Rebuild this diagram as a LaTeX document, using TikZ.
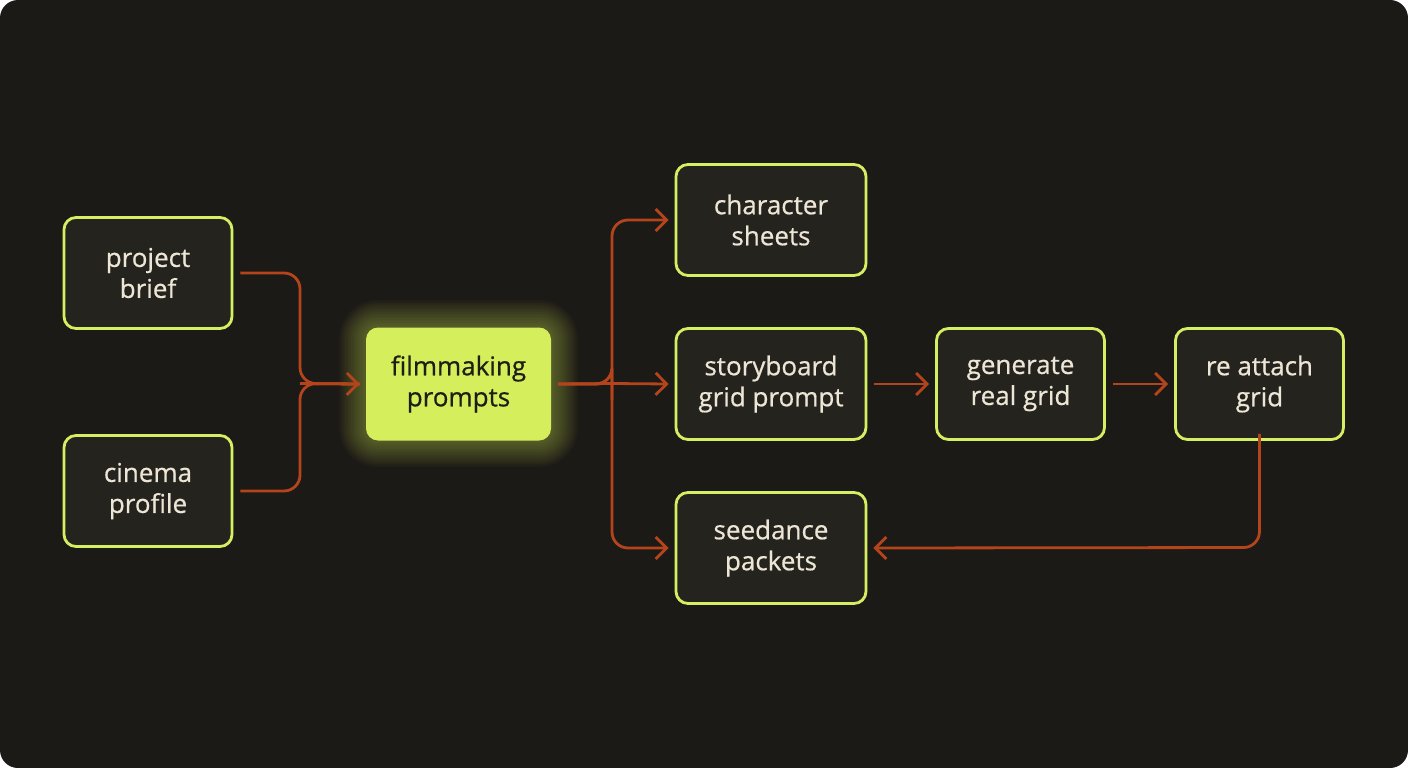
\documentclass[tikz,border=0pt]{standalone}
\usepackage{fontspec}
\setmainfont[FakeBold=0.6]{Open Sans}
\usetikzlibrary{arrows.meta,calc}
\definecolor{bg}{HTML}{1C1A16}
\definecolor{boxfill}{HTML}{24231E}
\definecolor{lime}{HTML}{D6EF62}
\definecolor{limefill}{HTML}{D5EE5C}
\definecolor{rust}{HTML}{B3441C}
\definecolor{cream}{HTML}{EDE6D6}
\definecolor{ink}{HTML}{1E1E14}
\tikzset{
  box/.style={draw=lime, line width=2.8pt, fill=boxfill, rounded corners=12pt,
    minimum width=168pt, minimum height=111pt, align=center, text=cream,
    font=\fontsize{26}{31}\selectfont},
  widebox/.style={box, minimum width=190pt},
  hub/.style={fill=limefill, rounded corners=12pt, minimum width=185pt, minimum height=113pt,
    align=center, text=ink, font=\fontsize{26}{31}\selectfont},
  conn/.style={draw=rust, line width=2.8pt, rounded corners=16pt,
    -{Straight Barb[length=11pt,width=22pt,line width=2.8pt]}},
  link/.style={draw=rust, line width=2.8pt, rounded corners=16pt}
}
\begin{document}
\begin{tikzpicture}[x=1pt,y=-1pt]
\useasboundingbox (0,0) rectangle (1408,768);
\fill[white] (0,0) rectangle (1408,768);
\fill[bg, rounded corners=18pt] (0,0) rectangle (1408,768);
% glow
\foreach \g in {1.5,3,...,27}{
  \fill[limefill, opacity=0.022, rounded corners=12pt+\g pt] (366-\g,327-\g) rectangle (551+\g,440+\g);
}
\node[box] (pb) at (148,273) {project\\brief};
\node[box] (cp) at (148,491) {cinema\\profile};
\node[hub] (fp) at (458.5,384) {filmmaking\\prompts};
\node[widebox] (cs) at (771,220) {character\\sheets};
\node[widebox] (sg) at (771,384) {storyboard\\grid prompt};
\node[widebox] (sp) at (771,548) {seedance\\packets};
\node[box] (gr) at (1020.5,384) {generate\\real grid};
\node[box] (ra) at (1259.5,384) {re attach\\grid};
\coordinate (j1) at (300,383.5);
\coordinate (j2) at (612,383.5);
\coordinate (j3) at (1259.5,547.5);
\draw[link] ([xshift=7pt]pb.east) -| (j1) -- ([xshift=-6pt]fp.west);
\draw[link] ([xshift=7pt]cp.east) -| (j1) -- ([xshift=-6pt]fp.west);
\draw[conn] (j1) -- ([xshift=-6pt]fp.west);
\draw[link] ([xshift=7pt]fp.east) -- (j2);
\draw[conn] ([xshift=7pt]fp.east) -| (j2) |- ([xshift=-6pt]cs.west);
\draw[conn] ([xshift=7pt]fp.east) -| (j2) |- ([xshift=-6pt]sp.west);
\draw[conn] (j2) -- ([xshift=-6pt]sg.west);
\draw[conn] ([xshift=7pt]sg.east) -- ([xshift=-6pt]gr.west);
\draw[conn] ([xshift=7pt]gr.east) -- ([xshift=-6pt]ra.west);
\draw[conn] ([yshift=7pt]ra.south) -- (j3) -- ([xshift=6pt]sp.east);
\end{tikzpicture}
\end{document}
